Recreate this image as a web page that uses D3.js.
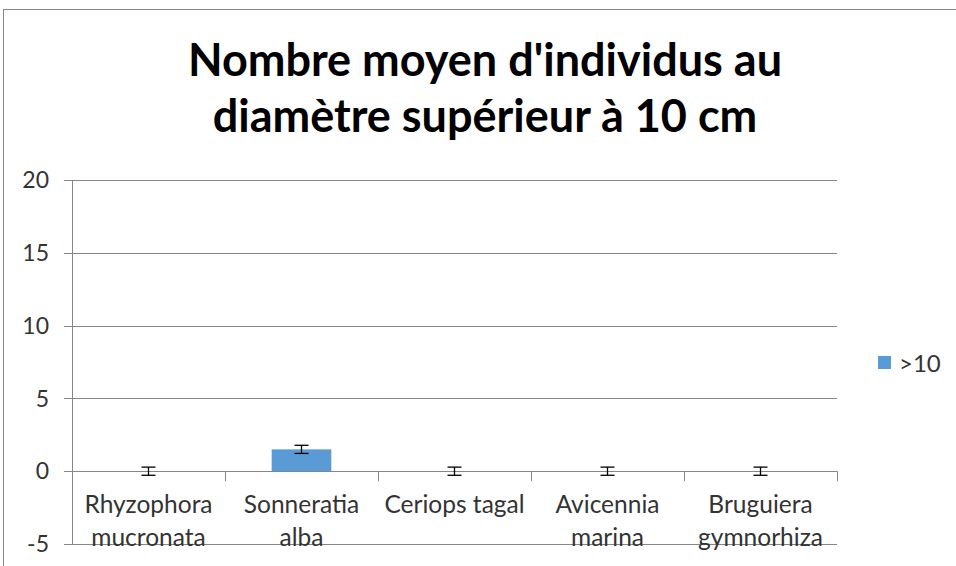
<!DOCTYPE html>
<html><head><meta charset="utf-8">
<script src="https://cdn.jsdelivr.net/npm/d3@7"></script>
<style>body{margin:0;background:#fff}svg{display:block}</style>
</head><body>
<svg id="c" width="956" height="566"></svg>
<script>
const categories = [["Rhyzophora","mucronata"],["Sonneratia","alba"],["Ceriops tagal"],["Avicennia","marina"],["Bruguiera","gymnorhiza"]];
const values = [0, 1.5, 0, 0, 0];
const errors = [0.28, 0.28, 0.28, 0.28, 0.28];
const yTicks = [-5, 0, 5, 10, 15, 20];
const seriesName = ">10";
const titleLines = ["Nombre moyen d'individus au", "diamètre supérieur à 10 cm"];

const svg = d3.select("#c");
const font = "Lato, 'Open Sans', sans-serif";
const grid = "#868686";
const txt = "#333";
// chart frame
svg.append("rect").attr("x",3.5).attr("y",9.5).attr("width",980).attr("height",600)
  .attr("fill","none").attr("stroke","#888").attr("stroke-width",1);

const L=72, R=837, T=180, B=544;
const y = d3.scaleLinear().domain([-5,20]).range([B,T]);
const x = d3.scaleBand().domain(d3.range(categories.length)).range([L,R]).paddingInner(0).paddingOuter(0);

// gridlines + y ticks
svg.append("g").selectAll("line").data(yTicks).join("line")
  .attr("x1",L-8).attr("x2",R).attr("y1",d=>Math.round(y(d))+0.5).attr("y2",d=>Math.round(y(d))+0.5)
  .attr("stroke",grid).attr("stroke-width",1);
svg.append("g").selectAll("text").data(yTicks).join("text")
  .attr("x",49).attr("y",d=>y(d)).attr("dy","0.36em").attr("text-anchor","end")
  .attr("font-family",font).attr("font-size",23).attr("fill",txt).text(d=>d);
// vertical axis
svg.append("line").attr("x1",L+0.5).attr("x2",L+0.5).attr("y1",T).attr("y2",B).attr("stroke",grid);
// category ticks on zero line
const bounds = d3.range(categories.length+1).map(i=>L+i*x.bandwidth());
svg.append("g").selectAll("line").data(bounds).join("line")
  .attr("x1",d=>Math.round(d)+0.5).attr("x2",d=>Math.round(d)+0.5)
  .attr("y1",y(0)).attr("y2",y(0)+10).attr("stroke",grid);

// bars
const bw = x.bandwidth()*0.39;
svg.append("g").selectAll("rect").data(values).join("rect")
  .attr("x",(d,i)=>x(i)+x.bandwidth()/2-bw/2).attr("width",bw)
  .attr("y",d=>y(Math.max(0,d))).attr("height",d=>Math.abs(y(d)-y(0)))
  .attr("fill","#5b9bd5");

// error bars
const eb = svg.append("g").attr("stroke","#000").attr("stroke-width",1.3);
values.forEach((v,i)=>{
  const cx = x(i)+x.bandwidth()/2;
  const y1=y(v+errors[i]), y2=y(v-errors[i]);
  eb.append("line").attr("x1",cx).attr("x2",cx).attr("y1",y1).attr("y2",y2);
  eb.append("line").attr("x1",cx-7).attr("x2",cx+7).attr("y1",y1).attr("y2",y1);
  eb.append("line").attr("x1",cx-7).attr("x2",cx+7).attr("y1",y2).attr("y2",y2);
});

// category labels
categories.forEach((lines,i)=>{
  const cx = x(i)+x.bandwidth()/2;
  const t = svg.append("text").attr("text-anchor","middle").attr("font-family",font)
    .attr("font-size",24.5).attr("fill",txt);
  lines.forEach((s,j)=>t.append("tspan").attr("x",cx).attr("y",513+j*33).text(s));
});

// title
const tt = svg.append("text").attr("text-anchor","middle").attr("font-family",font)
  .attr("font-size",45).attr("font-weight","bold").attr("fill","#000");
titleLines.forEach((s,j)=>tt.append("tspan").attr("x",485).attr("y",76+j*56).text(s));

// legend
svg.append("rect").attr("x",878).attr("y",356).attr("width",13).attr("height",13).attr("fill","#5b9bd5");
svg.append("text").attr("x",899).attr("y",363).attr("dy","0.36em").attr("font-family",font)
  .attr("font-size",24).attr("fill",txt).text(seriesName);
</script>
</body></html>
